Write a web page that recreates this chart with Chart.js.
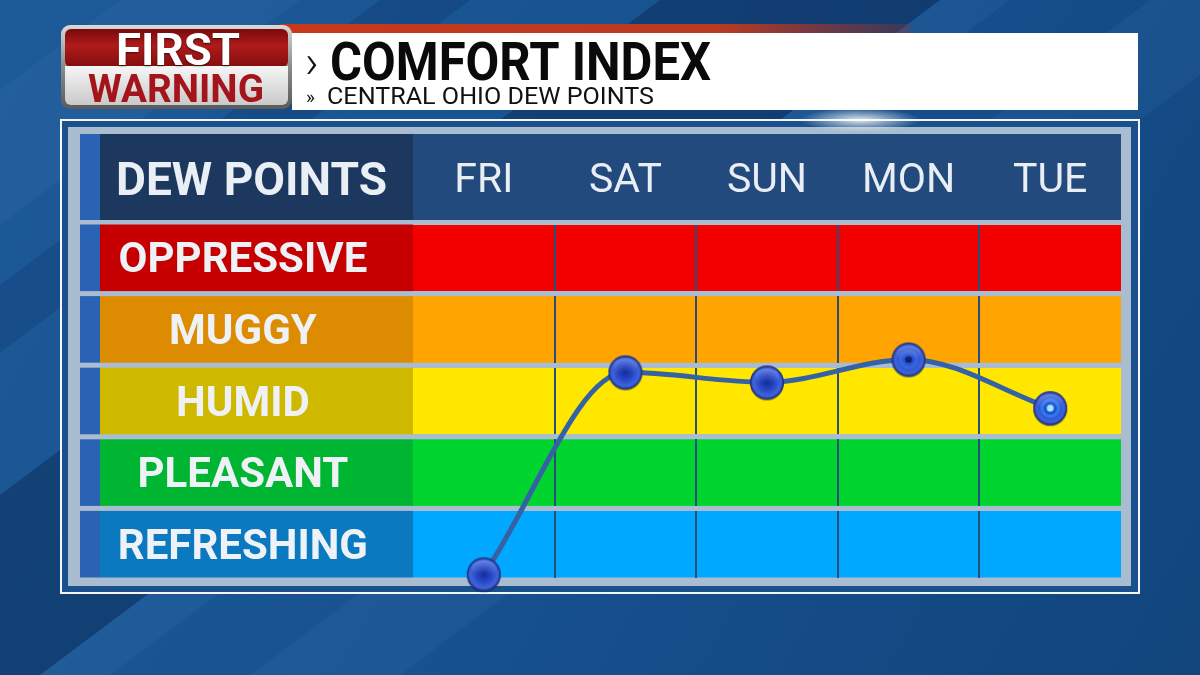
<!DOCTYPE html>
<html>
<head>
<meta charset="utf-8">
<title>Comfort Index - Central Ohio Dew Points</title>
<script src="https://cdn.jsdelivr.net/npm/chart.js@4.4.1/dist/chart.umd.min.js"></script>
<style>
  html, body { margin: 0; padding: 0; background: #154c86; }
  canvas { display: block; }
</style>
</head>
<body>
<canvas id="chart" width="1200" height="675"></canvas>
<script>
// Data
const days = ["FRI", "SAT", "SUN", "MON", "TUE"];
const dewPoints = [50.4, 64.5, 63.8, 65.4, 62.0];
const categories = ["REFRESHING", "PLEASANT", "HUMID", "MUGGY", "OPPRESSIVE"];
const categoryLimits = [50, 55, 60, 65, 70, 75];

// Styles
const bandColors = ["#00a8ff", "#00d42f", "#ffe700", "#ffa400", "#f20000"];
const labelColors = ["#0b79c0", "#00b532", "#cfb900", "#dd8b00", "#c60000"];
const FONT = "Roboto, 'Liberation Sans', sans-serif";

// Markers
function makeMarker(kind) {
  const size = 40, m = size / 2, r = 17;
  const c = document.createElement("canvas");
  c.width = c.height = size;
  const g = c.getContext("2d");

  g.beginPath();
  g.arc(m, m + 1, r, 0, Math.PI * 2);
  g.fillStyle = "rgba(10,20,60,0.55)";
  g.fill();

  g.beginPath();
  g.arc(m, m, r, 0, Math.PI * 2);
  g.fillStyle = "#22358a";
  g.fill();

  let grad = g.createRadialGradient(m, m, 1, m, m, r - 1.5);
  grad.addColorStop(0, "#16309e");
  grad.addColorStop(0.45, "#2747c4");
  grad.addColorStop(0.85, "#3f64dc");
  grad.addColorStop(1, "#3152c0");
  g.beginPath();
  g.arc(m, m, r - 1.5, 0, Math.PI * 2);
  g.fillStyle = grad;
  g.fill();

  if (kind !== "ball") {
    g.beginPath();
    g.arc(m, m, 10, 0, Math.PI * 2);
    g.fillStyle = kind === "light" ? "#2f78f0" : "#3566e0";
    g.fill();
    g.beginPath();
    g.arc(m, m, 6.5, 0, Math.PI * 2);
    g.fillStyle = kind === "light" ? "#1c4fc8" : "#2a55d0";
    g.fill();
    g.beginPath();
    g.arc(m, m, 3.5, 0, Math.PI * 2);
    g.fillStyle = kind === "light" ? "#9fe6ff" : "#0f1f78";
    g.fill();
  }

  // soft highlight
  grad = g.createLinearGradient(0, m - r, 0, m);
  grad.addColorStop(0, "rgba(255,255,255,0.25)");
  grad.addColorStop(1, "rgba(255,255,255,0)");
  g.beginPath();
  g.ellipse(m, m - 6, r - 5, 8, 0, 0, Math.PI * 2);
  g.fillStyle = grad;
  g.fill();
  return c;
}
const markers = [makeMarker("ball"), makeMarker("ball"), makeMarker("ball"), makeMarker("dark"), makeMarker("light")];

// Helpers
function fitText(ctx, text, x, y, width, font, color, align) {
  ctx.save();
  ctx.font = font;
  const w = ctx.measureText(text).width;
  const k = width / w;
  ctx.translate(x, y);
  ctx.scale(k, 1);
  ctx.textAlign = align || "left";
  ctx.textBaseline = "alphabetic";
  ctx.fillStyle = color;
  ctx.fillText(text, 0, 0);
  ctx.restore();
}

function roundRect(ctx, x, y, w, h, r) {
  ctx.beginPath();
  ctx.moveTo(x + r, y);
  ctx.arcTo(x + w, y, x + w, y + h, r);
  ctx.arcTo(x + w, y + h, x, y + h, r);
  ctx.arcTo(x, y + h, x, y, r);
  ctx.arcTo(x, y, x + w, y, r);
  ctx.closePath();
}

// Background, title and table cells
const backdrop = {
  id: "backdrop",
  beforeDraw(chart) {
    const ctx = chart.ctx;
    const area = chart.chartArea;
    const y = chart.scales.y;
    ctx.save();

    // blue backdrop with diagonal streaks
    let grad = ctx.createLinearGradient(0, 0, 1200, 675);
    grad.addColorStop(0, "#1d5a98");
    grad.addColorStop(0.5, "#175190");
    grad.addColorStop(1, "#11457c");
    ctx.fillStyle = grad;
    ctx.fillRect(0, 0, 1200, 675);
    const streaks = [
      [660, 940, "rgba(5,25,60,0.35)"],
      [940, 1010, "rgba(80,140,200,0.12)"],
      [120, 300, "rgba(90,150,210,0.10)"],
      [380, 470, "rgba(5,30,70,0.18)"],
      [1150, 1300, "rgba(90,150,210,0.10)"]
    ];
    streaks.forEach(([a, b, c]) => {
      ctx.beginPath();
      ctx.moveTo(a, 0);
      ctx.lineTo(b, 0);
      ctx.lineTo(b - 900, 675);
      ctx.lineTo(a - 900, 675);
      ctx.closePath();
      ctx.fillStyle = c;
      ctx.fill();
    });

    // title bar
    grad = ctx.createLinearGradient(290, 0, 910, 0);
    grad.addColorStop(0, "#c8391c");
    grad.addColorStop(0.7, "#b83a22");
    grad.addColorStop(1, "rgba(150,50,50,0.3)");
    ctx.fillStyle = grad;
    ctx.fillRect(280, 24, 630, 10);
    ctx.fillStyle = "#ffffff";
    ctx.fillRect(292, 33, 846, 77);

    ctx.font = "300 46px " + FONT;
    ctx.fillStyle = "#111";
    ctx.textBaseline = "alphabetic";
    ctx.fillText("\u203A", 305, 78);
    fitText(ctx, "COMFORT INDEX", 330, 80, 381, "700 53px " + FONT, "#0a0a0a");
    ctx.font = "400 19px " + FONT;
    ctx.fillStyle = "#111";
    ctx.fillText("\u00BB", 306, 103);
    fitText(ctx, "CENTRAL OHIO DEW POINTS", 327, 104, 327, "400 24px " + FONT, "#111");

    // logo
    grad = ctx.createLinearGradient(0, 25, 0, 109);
    grad.addColorStop(0, "#d9d9d9");
    grad.addColorStop(0.5, "#8a8a8a");
    grad.addColorStop(1, "#5a5a5a");
    roundRect(ctx, 61, 25, 231, 84, 9);
    ctx.fillStyle = grad;
    ctx.fill();
    grad = ctx.createLinearGradient(0, 29, 0, 66);
    grad.addColorStop(0, "#7a0b0b");
    grad.addColorStop(0.45, "#b01b1b");
    grad.addColorStop(1, "#850e0e");
    roundRect(ctx, 65, 29, 223, 38, 6);
    ctx.fillStyle = grad;
    ctx.fill();
    grad = ctx.createLinearGradient(0, 66, 0, 105);
    grad.addColorStop(0, "#f6f6f6");
    grad.addColorStop(1, "#c9c9c9");
    roundRect(ctx, 65, 66, 223, 39, 6);
    ctx.fillStyle = grad;
    ctx.fill();
    ctx.fillRect(65, 66, 223, 8);
    grad = ctx.createLinearGradient(0, 33, 0, 65);
    grad.addColorStop(0, "#ffffff");
    grad.addColorStop(0.5, "#d8d8d8");
    grad.addColorStop(1, "#9a9a9a");
    ctx.save();
    ctx.shadowColor = "rgba(0,0,0,0.6)";
    ctx.shadowOffsetY = 1;
    ctx.shadowBlur = 2;
    fitText(ctx, "FIRST", 178, 65, 124, "700 45px " + FONT, grad, "center");
    ctx.restore();
    fitText(ctx, "WARNING", 176, 102, 176, "700 39px " + FONT, "#a3141b", "center");

    // table frame
    ctx.fillStyle = "#1a508c";
    ctx.fillRect(61, 120, 1078, 473);
    ctx.strokeStyle = "#f2f6fa";
    ctx.lineWidth = 2;
    ctx.strokeRect(61, 120, 1078, 473);
    ctx.fillStyle = "#a9bcd0";
    ctx.fillRect(68, 127, 1063, 459);
    ctx.save();
    ctx.translate(860, 120);
    ctx.scale(1, 0.2);
    grad = ctx.createRadialGradient(0, 0, 0, 0, 0, 60);
    grad.addColorStop(0, "rgba(255,255,255,0.85)");
    grad.addColorStop(1, "rgba(255,255,255,0)");
    ctx.fillStyle = grad;
    ctx.fillRect(-60, -60, 120, 120);
    ctx.restore();

    // header row
    ctx.fillStyle = "#2b63b4";
    ctx.fillRect(80, 134, 20, 86);
    ctx.fillStyle = "#1d385e";
    ctx.fillRect(100, 134, area.left - 100, 86);
    ctx.fillStyle = "#234a7d";
    ctx.fillRect(area.left, 134, area.right - area.left, 86);
    fitText(ctx, "DEW POINTS", 116, 195, 271, "700 46px " + FONT, "#eaeff5");

    // category rows
    categories.forEach((c, i) => {
      const top = y.getPixelForValue(categoryLimits[i + 1]) + 2.5;
      const bottom = y.getPixelForValue(categoryLimits[i]) - 2.5;
      ctx.fillStyle = "#2b63b4";
      ctx.fillRect(80, top, 20, bottom - top);
      ctx.fillStyle = labelColors[i];
      ctx.fillRect(100, top, area.left - 100, bottom - top);
      ctx.fillStyle = bandColors[i];
      ctx.fillRect(area.left, top, area.right - area.left, bottom - top);
    });
    ctx.restore();
  }
};

const chart = new Chart(document.getElementById("chart"), {
  type: "line",
  data: {
    labels: days,
    datasets: [{
      data: dewPoints,
      borderColor: "#3462a4",
      borderWidth: 5,
      tension: 0.4,
      cubicInterpolationMode: "monotone",
      pointStyle: markers,
      pointRadius: 17,
      clip: false
    }]
  },
  options: {
    responsive: false,
    animation: false,
    devicePixelRatio: 1,
    layout: { padding: { left: 100, right: 79, top: 134, bottom: 95 } },
    plugins: { legend: { display: false }, tooltip: { enabled: false } },
    scales: {
      x: {
        position: "top",
        offset: true,
        grid: {
          offset: true,
          drawTicks: false,
          lineWidth: 2,
          color: ctx => (ctx.type !== "tick" || ctx.index === 0) ? "rgba(0,0,0,0)" : "#2b4d7b"
        },
        border: { display: false },
        ticks: {
          color: "#e9eef5",
          font: { family: FONT, size: 41 },
          padding: 16,
          maxRotation: 0
        },
        afterFit: s => { s.height = 88; }
      },
      y: {
        position: "left",
        min: 50,
        max: 75,
        afterBuildTicks: s => { s.ticks = categoryLimits.map(v => ({ value: v })); },
        ticks: { display: false },
        grid: { color: "#a9bcd0", lineWidth: 5, drawTicks: false },
        border: { display: false },
        afterFit: s => { s.width = 0; }
      },
      band: {
        position: "left",
        min: 50,
        max: 75,
        afterBuildTicks: s => {
          s.ticks = categories.map((c, i) => ({ value: (categoryLimits[i] + categoryLimits[i + 1]) / 2 }));
        },
        ticks: {
          callback: (v, i) => categories[i],
          crossAlign: "center",
          color: "#eef2f6",
          font: { family: FONT, size: 42, weight: "bold" },
          padding: 37,
          labelOffset: 4
        },
        grid: { display: false },
        border: { display: false },
        afterFit: s => { s.width = 313; }
      }
    }
  },
  plugins: [backdrop]
});
</script>
</body>
</html>
